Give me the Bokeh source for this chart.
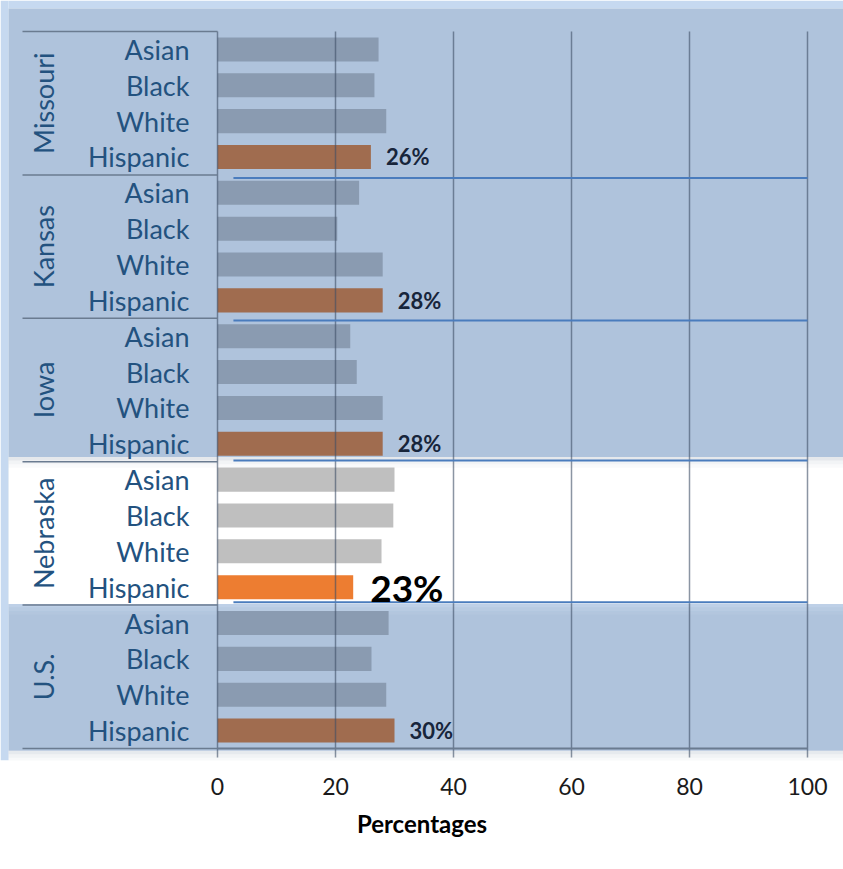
import math
from bokeh.plotting import figure
from bokeh.models import Range1d, FixedTicker, ColumnDataSource
from bokeh.core.properties import value
from bokeh.embed import file_html
from bokeh.resources import INLINE

# ---- data -------------------------------------------------------------
groups = ["Missouri", "Kansas", "Iowa", "Nebraska", "U.S."]
races = ["Asian", "Black", "White", "Hispanic"]
missouri = [27.3, 26.6, 28.6, 26]
kansas = [24.0, 20.3, 28.0, 28]
iowa = [22.5, 23.6, 28.0, 28]
nebraska = [30.0, 29.8, 27.8, 23]
us = [29.0, 26.1, 28.6, 30]
x_ticks = [0, 20, 40, 60, 80, 100]
x_title = "Percentages"

series = [missouri, kansas, iowa, nebraska, us]
highlight = "Nebraska"

# ---- colours ----------------------------------------------------------
PANEL = "#afc3dc"
STRIP = "#c6d9f0"
BAR_GREY = "#8a9bb1"
BAR_BROWN = "#a06c4f"
NE_GREY = "#bfbfbf"
NE_ORANGE = "#ed7d31"
LABEL_BLUE = "#23527f"

FONT = value("Lato")

# one row per (group, race); rows run top to bottom
ys, vals, colors, race_lbl = [], [], [], []
for gi, (g, vs) in enumerate(zip(groups, series)):
    for ri, (r, v) in enumerate(zip(races, vs)):
        ys.append(gi * 4 + ri + 0.5)
        vals.append(v)
        race_lbl.append(r)
        if g == highlight:
            colors.append(NE_ORANGE if r == "Hispanic" else NE_GREY)
        else:
            colors.append(BAR_BROWN if r == "Hispanic" else BAR_GREY)

bars = ColumnDataSource(dict(y=ys, v=vals, c=colors, race=race_lbl))

XL, XR = -36.7797, 106.1017
YB, YT = 20.335, -0.8647

p = figure(
    width=843, height=869,
    x_range=Range1d(XL, XR),
    y_range=Range1d(YB, YT),
    y_axis_location=None,
    output_backend="svg", toolbar_location=None,
    min_border_left=0, min_border_right=0, min_border_top=0, min_border_bottom=109,
)
p.grid.visible = False
p.outline_line_color = None
p.background_fill_color = "white"
p.border_fill_color = "white"

PL = -35.42  # left edge of the backdrop panel

# light frame strips on the left and top
p.quad(left=XL, right=PL, top=YT, bottom=YB, fill_color=STRIP, line_color=None)
p.quad(left=PL, right=XR, top=YT, bottom=-0.64, fill_color=STRIP, line_color=None)

# backdrop panel, white strip for the highlighted state, soft edges
p.quad(left=PL, right=XR, top=-0.64, bottom=20.06, fill_color=PANEL, line_color=None)
for k, a in enumerate([0.35, 0.2, 0.1]):
    p.quad(left=PL, right=XR, top=20.06 + k * 0.1, bottom=20.06 + (k + 1) * 0.1,
           fill_color="#b8c2cf", fill_alpha=a, line_color=None)
p.quad(left=PL, right=XR, top=11.87, bottom=15.97, fill_color="white", line_color=None)
for k, a in enumerate([0.3, 0.15, 0.07]):
    p.quad(left=PL, right=XR, top=11.87 + k * 0.1, bottom=11.87 + (k + 1) * 0.1,
           fill_color="#aab4c0", fill_alpha=a, line_color=None)
for k, a in enumerate([0.6, 0.35, 0.15]):
    p.quad(left=PL, right=XR, top=15.97 + k * 0.1, bottom=15.97 + (k + 1) * 0.1,
           fill_color="#c8d9ee", fill_alpha=a, line_color=None)

# bars
p.hbar(y="y", left=0, right="v", height=0.67, fill_color="c", line_color=None, source=bars)

# vertical gridlines
p.segment(x0=x_ticks, y0=[0] * len(x_ticks), x1=x_ticks, y1=[20.25] * len(x_ticks),
          line_color="#3d4f66", line_alpha=0.6, line_width=1.5)

# group dividers on the category side and bottom axis line
bounds = [i * 4 for i in range(len(groups) + 1)]
p.segment(x0=[-33.05] * len(bounds), y0=bounds, x1=[0] * len(bounds), y1=bounds,
          line_color="#6a7b90", line_width=1.5)
p.segment(x0=[0], y0=[bounds[-1]], x1=[x_ticks[-1]], y1=[bounds[-1]],
          line_color="#6a7b90", line_width=2)

# blue separator strokes after each state
sep_y = [4.09, 8.06, 11.97, 15.92]
p.segment(x0=[2.7] * 4, y0=sep_y, x1=[x_ticks[-1]] * 4, y1=sep_y,
          line_color="#4a7cbd", line_width=2)

# category labels
p.text(x=-4.75, y="y", text="race", source=bars, text_align="right",
       text_baseline="middle", text_font=FONT, text_font_size="27px",
       text_color=LABEL_BLUE)

# rotated group labels
p.text(x=[-29.5] * len(groups), y=[gi * 4 + 2 for gi in range(len(groups))],
       text=groups, angle=math.pi / 2, text_align="center", text_baseline="middle",
       text_font=FONT, text_font_size="27px", text_color=LABEL_BLUE)

# Hispanic value labels
hisp = [vs[3] for vs in series]
hisp_y = [gi * 4 + 3.5 for gi in range(len(groups))]
norm_idx = [i for i, g in enumerate(groups) if g != highlight]
hi_idx = [i for i, g in enumerate(groups) if g == highlight]
p.text(x=[hisp[i] for i in norm_idx], y=[hisp_y[i] for i in norm_idx],
       text=[f"{hisp[i]:.0f}%" for i in norm_idx], x_offset=15,
       text_align="left", text_baseline="middle", text_font=FONT,
       text_font_style="bold", text_font_size="22px", text_color="#17253b")
p.text(x=[hisp[i] for i in hi_idx], y=[hisp_y[i] for i in hi_idx],
       text=[f"{hisp[i]:.0f}%" for i in hi_idx], x_offset=17,
       text_align="left", text_baseline="middle", text_font=FONT,
       text_font_style="bold", text_font_size="37px", text_color="black")

# x axis
ax = p.xaxis[0]
ax.ticker = FixedTicker(ticks=x_ticks)
ax.axis_line_color = None
ax.major_tick_line_color = None
ax.minor_tick_line_color = None
ax.major_label_standoff = 11
ax.major_label_text_font = "Lato"
ax.major_label_text_font_size = "23px"
ax.major_label_text_color = "#1a1a1a"
ax.axis_label = x_title
ax.axis_label_standoff = 11
ax.axis_label_text_font = "Lato"
ax.axis_label_text_font_style = "bold"
ax.axis_label_text_font_size = "24px"
ax.axis_label_text_color = "black"

open("out.html", "w").write(file_html(p, INLINE))
